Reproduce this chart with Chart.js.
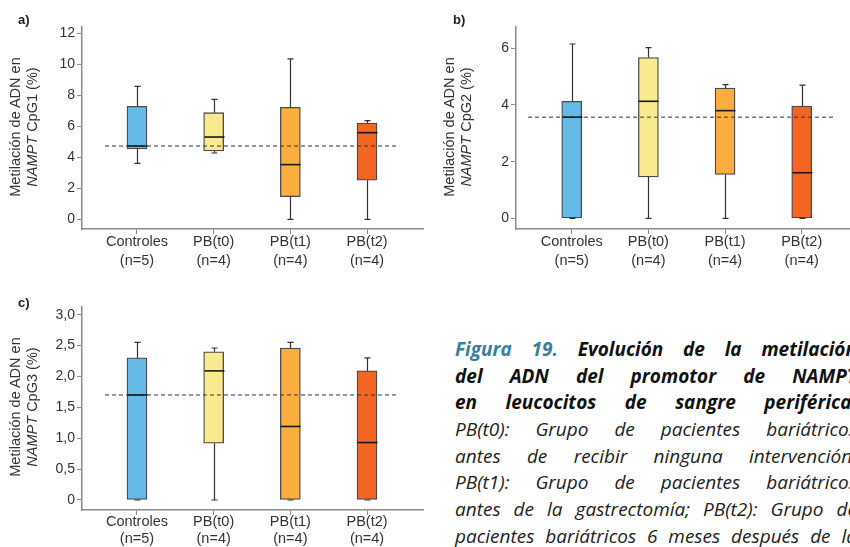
<!DOCTYPE html>
<html><head><meta charset="utf-8">
<script src="https://cdn.jsdelivr.net/npm/chart.js@4.4.1/dist/chart.umd.min.js"></script>
<style>
html,body{margin:0;padding:0;background:#fff;}
body{width:850px;height:547px;overflow:hidden;position:relative;font-family:"Liberation Sans",Arial,sans-serif;}
canvas.panel{position:absolute;}
.plabel{position:absolute;font:bold 13px "Liberation Sans",Arial,sans-serif;color:#222;}
.ytitle{position:absolute;width:240px;text-align:center;font-size:14.5px;line-height:17px;color:#333;transform:translate(-50%,-50%) rotate(-90deg);white-space:nowrap;}
.caption{position:absolute;left:455px;top:336px;width:402px;}
.cl{display:flex;justify-content:space-between;white-space:nowrap;height:26.7px;line-height:26.7px;font-family:"Open Sans",sans-serif;font-style:italic;font-size:19px;}
.b{font-weight:700;color:#111;}
.n{font-weight:400;color:#222;}
.fig{color:#3b7f9f;}
</style></head>
<body>
<canvas id="cA" class="panel" style="left:0;top:0" width="430" height="275"></canvas>
<canvas id="cB" class="panel" style="left:425px;top:0" width="425" height="275"></canvas>
<canvas id="cC" class="panel" style="left:0;top:280px" width="430" height="267"></canvas>

<div class="plabel" style="left:18px;top:12px">a)</div>
<div class="plabel" style="left:453px;top:12px">b)</div>
<div class="plabel" style="left:18px;top:295px">c)</div>

<div class="ytitle" style="left:24px;top:127px">Metilación de ADN en<br><i>NAMPT</i> CpG1 (%)</div>
<div class="ytitle" style="left:458px;top:127px">Metilación de ADN en<br><i>NAMPT</i> CpG2 (%)</div>
<div class="ytitle" style="left:24px;top:407px">Metilación de ADN en<br><i>NAMPT</i> CpG3 (%)</div>

<div class="caption">
 <div class="cl b"><span class="fig">Figura</span><span class="fig">19.</span><span>Evolución</span><span>de</span><span>la</span><span>metilación</span></div>
 <div class="cl b"><span>del</span><span>ADN</span><span>del</span><span>promotor</span><span>de</span><span>NAMPT</span></div>
 <div class="cl b"><span>en</span><span>leucocitos</span><span>de</span><span>sangre</span><span>periférica.</span></div>
 <div class="cl n"><span>PB(t0):</span><span>Grupo</span><span>de</span><span>pacientes</span><span>bariátricos</span></div>
 <div class="cl n"><span>antes</span><span>de</span><span>recibir</span><span>ninguna</span><span>intervención;</span></div>
 <div class="cl n"><span>PB(t1):</span><span>Grupo</span><span>de</span><span>pacientes</span><span>bariátricos</span></div>
 <div class="cl n"><span>antes</span><span>de</span><span>la</span><span>gastrectomía;</span><span>PB(t2):</span><span>Grupo</span><span>de</span></div>
 <div class="cl n"><span>pacientes</span><span>bariátricos</span><span>6</span><span>meses</span><span>después</span><span>de</span><span>la</span></div>
</div>

<script>
// ---- data ----
const categories = ['Controles', 'PB(t0)', 'PB(t1)', 'PB(t2)'];
const groupSizes = ['(n=5)', '(n=4)', '(n=4)', '(n=4)'];
const boxColors = ['#64bbe8', '#f9ea8f', '#fbad3e', '#f26522'];

// Panel a) CpG1
const lowA  = [3.61, 4.28, 0.00, 0.00];
const q1A   = [4.54, 4.41, 1.46, 2.52];
const medA  = [4.73, 5.31, 3.53, 5.59];
const q3A   = [7.29, 6.88, 7.23, 6.21];
const highA = [8.58, 7.74, 10.35, 6.37];
const refA  = 4.73;
const ticksA = [0, 2, 4, 6, 8, 10, 12];

// Panel b) CpG2
const lowB  = [0.00, 0.00, 0.00, 0.00];
const q1B   = [0.00, 1.46, 1.55, 0.00];
const medB  = [3.57, 4.13, 3.80, 1.61];
const q3B   = [4.13, 5.67, 4.60, 3.96];
const highB = [6.15, 6.02, 4.72, 4.70];
const refB  = 3.57;
const ticksB = [0, 2, 4, 6];

// Panel c) CpG3
const lowC  = [0.00, 0.00, 0.00, 0.00];
const q1C   = [0.00, 0.92, 0.00, 0.00];
const medC  = [1.70, 2.09, 1.19, 0.93];
const q3C   = [2.30, 2.40, 2.46, 2.09];
const highC = [2.55, 2.46, 2.55, 2.30];
const refC  = 1.70;
const ticksC = [0, 0.5, 1.0, 1.5, 2.0, 2.5, 3.0];

// ---- drawing ----
const boxExtras = {
  id: 'boxExtras',
  afterDatasetsDraw(chart, args, o) {
    const ctx = chart.ctx, xs = chart.scales.x, ys = chart.scales.y;
    ctx.save();
    ctx.lineCap = 'butt';
    for (let i = 0; i < o.med.length; i++) {
      const x = Math.round(xs.getPixelForValue(i)) + 0.5;
      const yl = ys.getPixelForValue(o.low[i]), y1 = ys.getPixelForValue(o.q1[i]);
      const y3 = ys.getPixelForValue(o.q3[i]), yh = ys.getPixelForValue(o.high[i]);
      const ym = ys.getPixelForValue(o.med[i]);
      ctx.strokeStyle = '#333'; ctx.lineWidth = 1.2;
      ctx.beginPath();
      ctx.moveTo(x, y3); ctx.lineTo(x, yh);
      ctx.moveTo(x - 3, yh); ctx.lineTo(x + 3, yh);
      ctx.moveTo(x, y1); ctx.lineTo(x, yl);
      ctx.moveTo(x - 3, yl); ctx.lineTo(x + 3, yl);
      ctx.stroke();
      ctx.strokeStyle = '#1a1a1a'; ctx.lineWidth = 1.6;
      ctx.beginPath();
      ctx.moveTo(x - 10, ym); ctx.lineTo(x + 10, ym);
      ctx.stroke();
    }
    ctx.restore();
  }
};

function makePanel(id, p) {
  const axisColor = '#8a8a8a';
  new Chart(document.getElementById(id), {
    type: 'bar',
    data: {
      datasets: [
        {
          type: 'line',
          data: [{x: p.refFrom, y: p.ref}, {x: p.refTo, y: p.ref}],
          borderColor: '#333', borderWidth: 1, borderDash: [4, 3],
          pointRadius: 0, fill: false, order: 0
        },
        {
          type: 'bar',
          data: categories.map((c, i) => ({x: i, y: [p.q1[i], p.q3[i]]})),
          backgroundColor: boxColors,
          borderColor: '#4a4a4a', borderWidth: 1.3, borderSkipped: false,
          barThickness: 20, order: 1
        }
      ]
    },
    options: {
      responsive: false, animation: false,
      layout: {padding: {left: 0, right: p.padRight, top: p.padTop, bottom: 0}},
      plugins: {legend: {display: false}, tooltip: {enabled: false},
        boxExtras: {low: p.low, q1: p.q1, med: p.med, q3: p.q3, high: p.high}},
      scales: {
        x: {
          type: 'linear', min: p.xmin, max: p.xmax, offset: false,
          grid: {drawOnChartArea: false, drawTicks: true, tickLength: 5, color: axisColor, offset: false},
          border: {display: true, color: axisColor, width: 1.5},
          afterBuildTicks: s => { s.ticks = categories.map((c, i) => ({value: i})); },
          afterFit: s => { s.height = p.xh; },
          ticks: {
            autoSkip: false, maxRotation: 0, padding: p.lblPad, color: '#333',
            font: {family: 'Liberation Sans', size: 14.5, lineHeight: p.lblLH},
            callback: v => [categories[v], groupSizes[v]]
          }
        },
        y: {
          type: 'linear', min: p.ymin, max: p.ymax,
          grid: {drawOnChartArea: false, drawTicks: true, tickLength: 5, color: axisColor},
          border: {display: true, color: axisColor, width: 1.5},
          afterBuildTicks: s => { s.ticks = p.ticks.map(v => ({value: v})); },
          afterFit: s => { s.width = p.yw; },
          ticks: {
            padding: 2, color: '#333',
            font: {family: 'Liberation Sans', size: 14},
            callback: p.fmt
          }
        }
      }
    },
    plugins: [boxExtras]
  });
}

const fmtInt = v => String(v);
const fmtComma = v => v === 0 ? '0' : v.toFixed(1).replace('.', ',');

makePanel('cA', {low: lowA, q1: q1A, med: medA, q3: q3A, high: highA, ref: refA, ticks: ticksA, fmt: fmtInt,
  ymin: -0.624, ymax: 12.41, xmin: -0.717, xmax: 3.73, refFrom: -0.417, refTo: 3.42,
  padTop: 27, padRight: 7, yw: 82, xh: 46, lblPad: -1, lblLH: '18.8px'});
makePanel('cB', {low: lowB, q1: q1B, med: medB, q3: q3B, high: highB, ref: refB, ticks: ticksB, fmt: fmtInt,
  ymin: -0.374, ymax: 6.75, xmin: -0.727, xmax: 3.617, refFrom: -0.57, refTo: 3.42,
  padTop: 27, padRight: 1, yw: 91, xh: 46, lblPad: -1, lblLH: '18.8px'});
makePanel('cC', {low: lowC, q1: q1C, med: medC, q3: q3C, high: highC, ref: refC, ticks: ticksC, fmt: fmtComma,
  ymin: -0.162, ymax: 3.124, xmin: -0.717, xmax: 3.73, refFrom: -0.417, refTo: 3.42,
  padTop: 27, padRight: 7, yw: 82, xh: 37, lblPad: -2, lblLH: '17px'});
</script>
</body></html>
